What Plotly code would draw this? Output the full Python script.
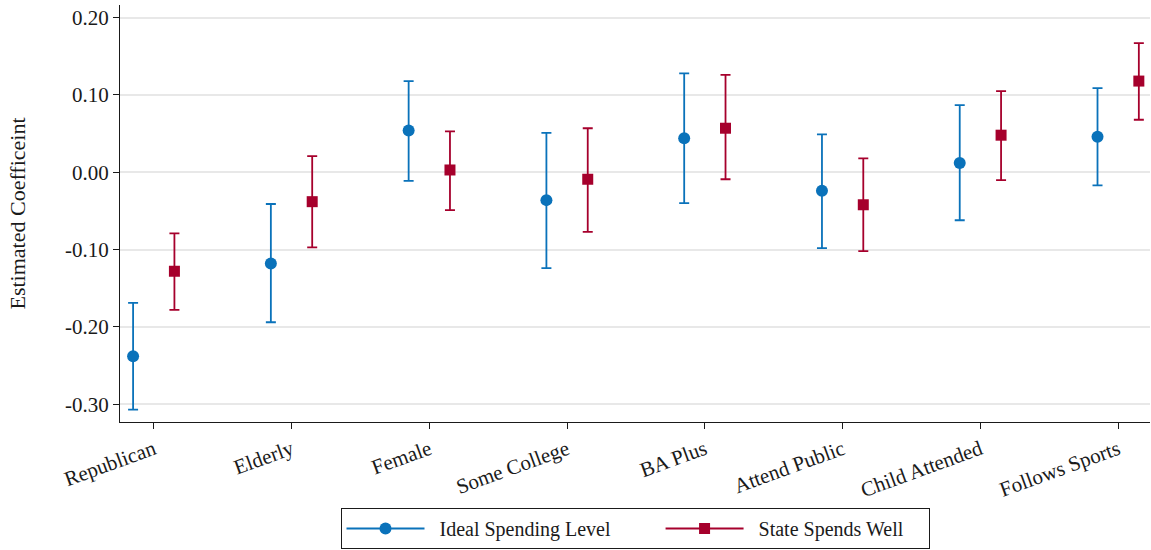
import plotly.graph_objects as go

categories = ["Republican", "Elderly", "Female", "Some College", "BA Plus",
              "Attend Public", "Child Attended", "Follows Sports"]

ideal_est = [-0.238, -0.118, 0.054, -0.036, 0.044, -0.024, 0.012, 0.046]
ideal_lo = [-0.307, -0.194, -0.011, -0.124, -0.040, -0.098, -0.062, -0.017]
ideal_hi = [-0.169, -0.041, 0.118, 0.051, 0.128, 0.049, 0.087, 0.109]

state_est = [-0.128, -0.038, 0.003, -0.009, 0.057, -0.042, 0.048, 0.118]
state_lo = [-0.178, -0.097, -0.049, -0.077, -0.009, -0.102, -0.010, 0.068]
state_hi = [-0.079, 0.021, 0.053, 0.057, 0.126, 0.018, 0.105, 0.167]

ytick_vals = [-0.3, -0.2, -0.1, 0.0, 0.1, 0.2]
ytick_text = ["-0.30", "-0.20", "-0.10", "0.00", "0.10", "0.20"]

series_names = ["Ideal Spending Level", "State Spends Well"]

BLUE = "#0a72ba"
RED = "#a6002c"
FONT = "Liberation Serif"
OFFSET = 0.15
NBSP = "\u00a0"

idx = list(range(len(categories)))

fig = go.Figure()

def add_series(est, lo, hi, color, symbol, size, shift, name, legend_label):
    xs = [i + shift for i in idx]
    fig.add_trace(go.Scatter(
        x=xs, y=est, mode="markers", showlegend=False,
        marker=dict(color=color, symbol=symbol, size=size),
        error_y=dict(type="data", symmetric=False,
                     array=[h - e for h, e in zip(hi, est)],
                     arrayminus=[e - l for e, l in zip(est, lo)],
                     color=color, thickness=1.8, width=5),
        name=name,
    ))
    fig.add_trace(go.Scatter(
        x=[None], y=[None], mode="lines+markers", name=legend_label,
        line=dict(color=color, width=1.8),
        marker=dict(color=color, symbol=symbol, size=size),
    ))

add_series(ideal_est, ideal_lo, ideal_hi, BLUE, "circle", 12, -OFFSET, series_names[0],
           NBSP * 2 + series_names[0] + NBSP * 9)
add_series(state_est, state_lo, state_hi, RED, "square", 11, OFFSET, series_names[1],
           NBSP * 2 + series_names[1] + NBSP * 4)

fig.update_layout(
    width=1151, height=550, autosize=False,
    margin=dict(l=120, r=1, t=5, b=128, autoexpand=False),
    paper_bgcolor="white", plot_bgcolor="white",
    font=dict(family=FONT, size=21, color="#1a1a1a"),
    legend=dict(orientation="h", x=0.5, xanchor="center",
                yref="container", y=0.0764, yanchor="top",
                bordercolor="#1a1a1a", borderwidth=1, bgcolor="white",
                font=dict(family=FONT, size=20, color="#1a1a1a"),
                itemwidth=78),
    xaxis=dict(range=[-0.245, 7.231], tickmode="array", tickvals=idx, ticktext=categories,
               tickangle=-20, showgrid=False, zeroline=False, automargin=False,
               showline=True, linecolor="#1a1a1a", linewidth=1.3,
               ticks="outside", ticklen=6, tickwidth=1.3, tickcolor="#1a1a1a",
               tickfont=dict(family=FONT, size=21)),
    yaxis=dict(range=[-0.323, 0.2164], tickmode="array", tickvals=ytick_vals, ticktext=ytick_text,
               showgrid=True, gridcolor="#e8e8e8", gridwidth=1.5, zeroline=False, automargin=False,
               showline=True, linecolor="#1a1a1a", linewidth=1.3,
               ticks="outside", ticklen=6, tickwidth=1.3, tickcolor="#1a1a1a",
               tickfont=dict(family=FONT, size=21),
               title=dict(text="Estimated Coefficeint", standoff=33,
                          font=dict(family=FONT, size=22))),
)

fig.write_html("out.html")
